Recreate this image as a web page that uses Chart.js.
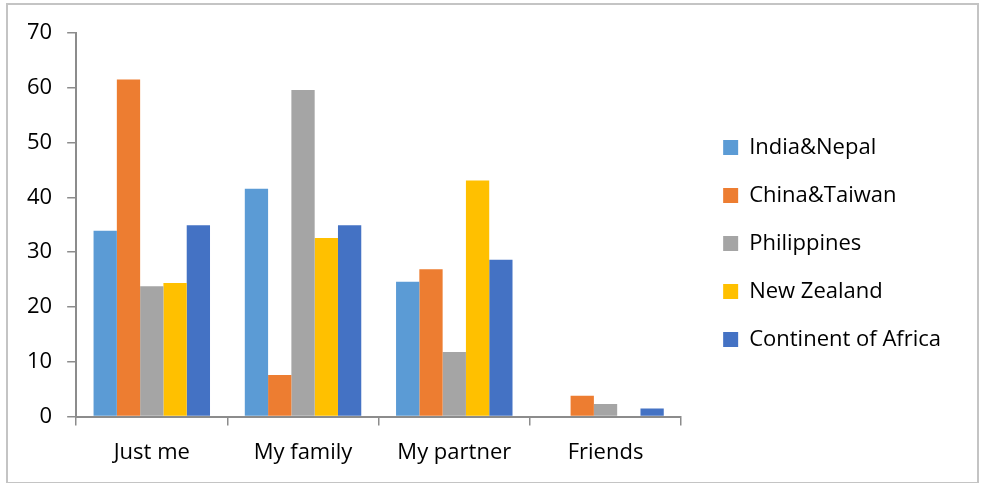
<!DOCTYPE html>
<html>
<head>
<meta charset="utf-8">
<script src="https://cdn.jsdelivr.net/npm/chart.js@4/dist/chart.umd.min.js"></script>
<style>
  html, body { margin: 0; padding: 0; background: #fff; }
  #frame { position: absolute; left: 6px; top: 3px; width: 969px; height: 477px; border: 2px solid #c4c4c4; pointer-events: none; }
  #wrap { position: absolute; left: 0; top: 0; width: 981px; height: 483px; }
</style>
</head>
<body>
<div id="wrap"><canvas id="chart"></canvas></div>
<div id="frame"></div>
<script>
'use strict';

// ── Data ─────────────────────────────────────────────────────────
const categories = ['Just me', 'My family', 'My partner', 'Friends'];
const seriesNames = ['India&Nepal', 'China&Taiwan', 'Philippines', 'New Zealand', 'Continent of Africa'];
const indiaNepal   = [33.9, 41.6, 24.6, 0];
const chinaTaiwan  = [61.5, 7.6, 26.9, 3.8];
const philippines  = [23.8, 59.6, 11.8, 2.3];
const newZealand   = [24.4, 32.6, 43.1, 0];
const africa       = [34.9, 34.9, 28.6, 1.5];
const yTicks       = [0, 10, 20, 30, 40, 50, 60, 70];

const colors = ['#5B9BD5', '#ED7D31', '#A5A5A5', '#FFC000', '#4472C4'];
const values = [indiaNepal, chinaTaiwan, philippines, newZealand, africa];

const FONT = { family: 'Open Sans', size: 22 };
const AXIS = '#8c8c8c';

// nudge the legend up so it sits where the original one does
const legendNudge = {
    id: 'legendNudge',
    afterLayout(chart) {
        if (!chart.legend) return;
        chart.legend.top -= 13;
        chart.legend.bottom -= 13;
    }
};

new Chart(document.getElementById('chart'), {
    type: 'bar',
    data: {
        labels: categories,
        datasets: seriesNames.map((name, i) => ({
            label: name,
            data: values[i],
            backgroundColor: colors[i],
            borderWidth: 0,
            categoryPercentage: 0.77,
            barPercentage: 1.0,
        }))
    },
    options: {
        responsive: true,
        maintainAspectRatio: false,
        animation: false,
        layout: { padding: { left: 12, top: 33, right: 30, bottom: 3 } },
        plugins: {
            legend: {
                position: 'right',
                maxWidth: 400,
                labels: {
                    boxWidth: 15,
                    boxHeight: 15,
                    padding: 26,
                    color: '#000',
                    font: FONT,
                }
            },
            tooltip: { enabled: false }
        },
        scales: {
            x: {
                grid: { display: true, drawOnChartArea: false, drawTicks: true, tickLength: 9, color: AXIS, lineWidth: 1.5 },
                border: { display: true, color: AXIS, width: 2 },
                ticks: { color: '#000', font: FONT, padding: 14 }
            },
            y: {
                min: 0,
                max: 70,
                afterBuildTicks: s => { s.ticks = yTicks.map(v => ({ value: v })); },
                grid: { display: true, drawOnChartArea: false, drawTicks: true, tickLength: 9, color: AXIS, lineWidth: 1.5 },
                border: { display: true, color: AXIS, width: 2 },
                ticks: { color: '#000', font: FONT, padding: 15 }
            },
            // empty spacer between the plot and the legend
            gap: {
                type: 'linear',
                position: 'right',
                display: true,
                grid: { display: false },
                border: { display: false },
                ticks: { display: false },
                afterFit: s => { s.width = 16; }
            }
        }
    },
    plugins: [legendNudge]
});
</script>
</body>
</html>
